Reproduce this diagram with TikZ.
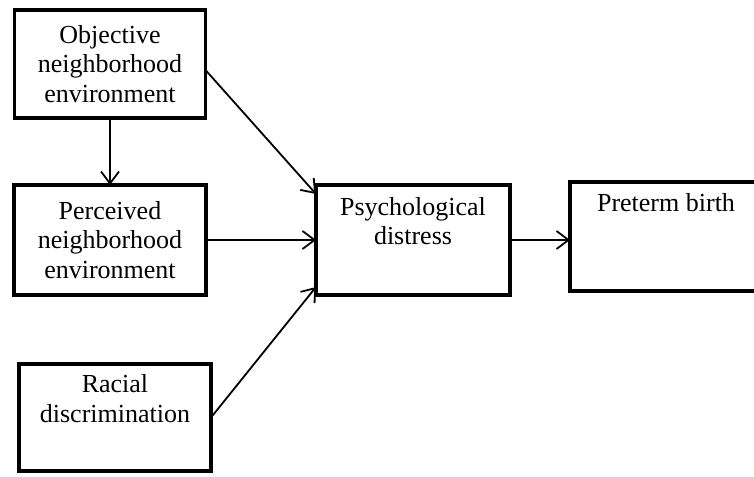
\documentclass[tikz,border=0pt]{standalone}
\usepackage{fontspec}
\setmainfont{Liberation Serif}
\usetikzlibrary{arrows.meta,calc}
\begin{document}
\begin{tikzpicture}[x=1pt,y=-1pt,
  box/.style={draw, line width=3.5pt, align=center, inner sep=0pt, outer sep=0pt,
    font=\fontsize{26}{29.5}\selectfont},
  conn/.style={line width=1.8pt, -{Straight Barb[length=12pt,width=18pt]}}]
\useasboundingbox (0,0) rectangle (754,476);
\node[box, minimum width=191pt, minimum height=108pt] (b1) at (110,64) {Objective\\neighborhood\\environment};
\node[box, minimum width=192pt, minimum height=110pt] (b2) at (110,240) {Perceived\\neighborhood\\environment};
\node[box, minimum width=192pt, minimum height=107pt] (b3) at (115,417.5) {Racial\\discrimination\\\strut};
\node[box, minimum width=194pt, minimum height=110pt] (b4) at (413,240) {Psychological\\distress\\\strut};
\node[box, minimum width=192pt, minimum height=109pt] (b5) at (666,236.5) {Preterm birth\\\strut\\\strut};
\draw[conn] (b1.south) -- (b2.north);
\draw[conn] ($(b1.east)+(0,6)$) -- ($(b4.north west)+(0,9)$);
\draw[conn] (b2.east) -- (b4.west);
\draw[conn] (b3.east) -- ($(b4.south west)+(0,-8)$);
\draw[conn] (b4.east) -- (b4.east -| b5.west);
\end{tikzpicture}
\end{document}
